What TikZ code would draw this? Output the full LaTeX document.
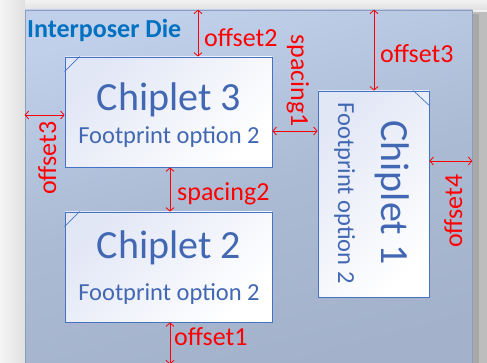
\documentclass[tikz,border=0pt]{standalone}
\usepackage{fontspec}
\setmainfont{Carlito}
\usetikzlibrary{arrows.meta,calc}

\definecolor{backdrop}{RGB}{240,240,240}
\definecolor{dieTop}{RGB}{192,208,234}
\definecolor{dieMid}{RGB}{172,187,212}
\definecolor{dieBottom}{RGB}{163,177,203}
\definecolor{dieEdge}{RGB}{140,158,192}
\definecolor{chipTint}{RGB}{226,231,246}
\definecolor{chipEdge}{RGB}{68,114,196}
\definecolor{chipText}{RGB}{66,104,180}
\definecolor{dieLabel}{RGB}{0,112,192}
\definecolor{dimRed}{RGB}{255,0,0}

\tikzset{
  die/.style={draw=dieEdge, line width=0.7pt, inner sep=0pt,
    top color=dieTop, bottom color=dieBottom, middle color=dieMid,
    shading angle=15},
  chip/.style={draw=chipEdge, line width=0.8pt, inner sep=0pt,
    top color=chipTint, bottom color=white, shading angle=45},
  fold/.style={draw=chipEdge, line width=0.7pt},
  chipname/.style={text=chipText, inner sep=0pt, font=\fontsize{40}{48}\selectfont},
  chipnote/.style={text=chipText, inner sep=0pt, font=\fontsize{24.5}{29}\selectfont},
  dimlabel/.style={text=dimRed, inner sep=0pt, font=\fontsize{26}{31}\selectfont},
  dim/.style={draw=dimRed, line width=0.8pt,
    {Straight Barb[length=3.5pt,width=8pt]}-{Straight Barb[length=3.5pt,width=8pt]}},
}

\begin{document}
\begin{tikzpicture}[x=1pt,y=-1pt]
\useasboundingbox (0,0) rectangle (487,363);
\clip (0,0) rectangle (487,363);

% surroundings and drop shadow of the die
\fill[backdrop] (0,0) rectangle (487,363);
\shade[left color=white!96!black, right color=white!88!black] (0,0) rectangle (25,363);
\shade[top color=white!95!black, bottom color=white!88!black] (25,0) rectangle (487,10);
\fill[white!74!black] (472,12) rectangle (487,363);
\fill[white!66!black] (472,14) rectangle (479,363);

% interposer die
\node[die, minimum width=447pt, minimum height=355pt] (die) at (248.5,187.5) {};
\node[anchor=base west, inner sep=0pt, text=dieLabel,
      font=\fontsize{26}{31}\selectfont\bfseries] (dietitle) at (27,38) {Interposer Die};

% chiplets
\node[chip, minimum width=207pt, minimum height=110pt] (c3) at (168.5,112) {};
\node[chip, minimum width=207pt, minimum height=110pt] (c2) at (168.5,267) {};
\node[chip, minimum width=111pt, minimum height=206pt] (c1) at (373.5,194) {};

% folded corners
\draw[fold] ($(c3.north west)+(15,0)$) -- ($(c3.north west)+(0,15)$);
\draw[fold] ($(c2.north west)+(15,0)$) -- ($(c2.north west)+(0,15)$);
\draw[fold] ($(c1.north east)+(-16,0)$) -- ($(c1.north east)+(0,15)$);

% chiplet texts
\node[chipname, anchor=base] (c3name) at (169,110.5) {Chiplet 3};
\node[chipnote, anchor=base] (c3note) at (169,144) {Footprint option 2};
\node[chipname, anchor=base] (c2name) at (169,259) {Chiplet 2};
\node[chipnote, anchor=base] (c2note) at (169,300) {Footprint option 2};
\node[chipname, anchor=base, rotate=-90] (c1name) at (381,192.5) {Chiplet 1};
\node[chipnote, anchor=base, rotate=-90] (c1note) at (338,193) {Footprint option 2};

% dimension end points
\coordinate (o2x) at (198,0);
\coordinate (o3x) at (374,0);
\coordinate (s2x) at (170,0);
\coordinate (o3y) at (0,115);
\coordinate (s1y) at (0,131);
\coordinate (o4y) at (0,161);

% dimension arrows
\draw[dim] (die.north -| o2x) -- (c3.north -| o2x);
\draw[dim] (die.north -| o3x) -- (c1.north -| o3x);
\draw[dim] (die.west |- o3y) -- (c3.west |- o3y);
\draw[dim] (c3.east |- s1y) -- (c1.west |- s1y);
\draw[dim] (c3.south -| s2x) -- (c2.north -| s2x);
\draw[dim] (c1.east |- o4y) -- (die.east |- o4y);
\draw[dim] (c2.south -| s2x) -- ([yshift=1pt]die.south -| s2x);

% dimension labels
\node[dimlabel, anchor=base west] (l-o2) at (204,47) {offset2};
\node[dimlabel, anchor=base west] (l-o3a) at (380,63) {offset3};
\node[dimlabel, anchor=base west, rotate=-90] (l-s1) at (291,34) {spacing1};
\node[dimlabel, anchor=base west] (l-s2) at (177,201) {spacing2};
\node[dimlabel, anchor=base west] (l-o1) at (174,345) {offset1};
\node[dimlabel, anchor=base west, rotate=90] (l-o3b) at (56,195) {offset3};
\node[dimlabel, anchor=base west, rotate=90] (l-o4) at (462,248) {offset4};
\end{tikzpicture}
\end{document}
